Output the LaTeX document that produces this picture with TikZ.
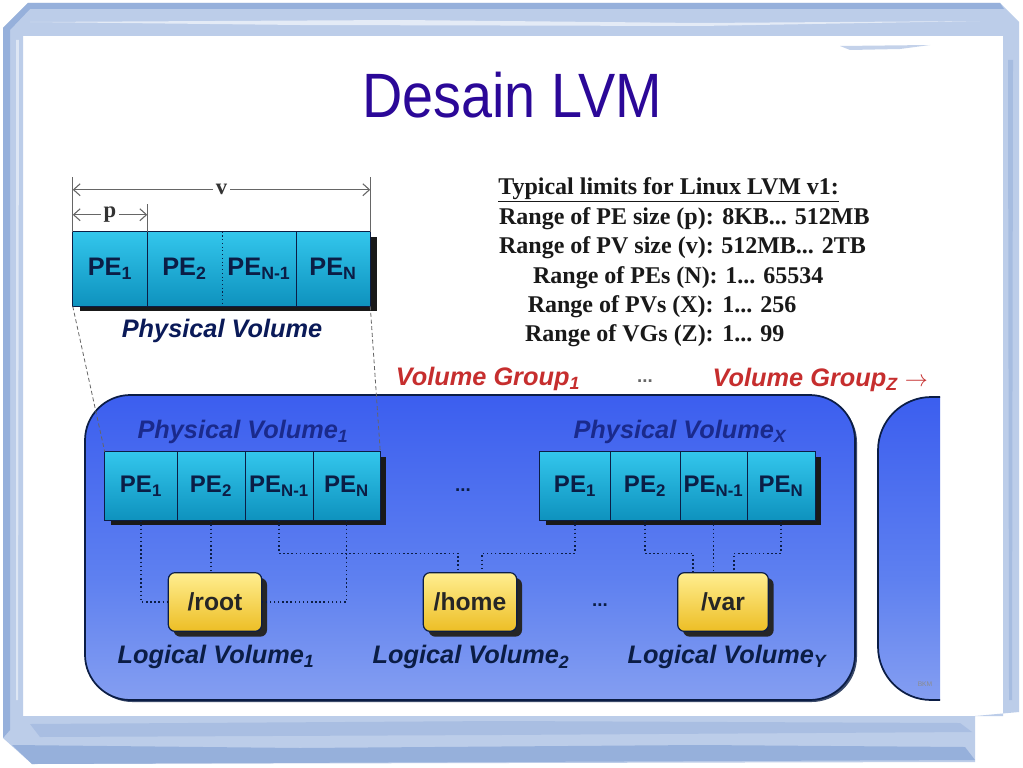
\documentclass[tikz,border=0pt]{standalone}
\usepackage{fontspec}
\setmainfont{Liberation Serif}
\setsansfont{Liberation Sans}
\usetikzlibrary{arrows.meta,shadows,calc}
\definecolor{navy}{HTML}{0B1D45}
\definecolor{pvlab}{HTML}{1A2A8C}
\definecolor{petop}{HTML}{33C6EC}
\definecolor{pebot}{HTML}{0E92BE}
\definecolor{lvtop}{HTML}{FFEE90}
\definecolor{lvbot}{HTML}{EDBE25}
\definecolor{vgtop}{HTML}{1F42EE}
\definecolor{vgmid}{HTML}{5E80F0}
\definecolor{vgbot}{HTML}{B4C4F2}
\definecolor{vgred}{HTML}{C62E2E}
\definecolor{titlec}{HTML}{2B0898}
\definecolor{framec}{HTML}{BCCDE9}
\definecolor{framed}{HTML}{7E9DD2}
\pgfdeclareverticalshading{vgshade}{100bp}{color(0bp)=(vgbot); color(45bp)=(vgmid); color(100bp)=(vgtop)}
\begin{document}
\begin{tikzpicture}[x=0.75pt,y=-0.75pt,
  pecell/.style={rectangle, inner sep=0pt, top color=petop, bottom color=pebot, text=navy},
  pebig/.style={font=\fontsize{19}{20}\selectfont\sffamily\bfseries},
  pesmall/.style={font=\fontsize{18}{19}\selectfont\sffamily\bfseries},
  lvbox/.style={rectangle, rounded corners=5pt, draw=navy, line width=0.9pt, top color=lvtop, bottom color=lvbot,
     minimum width=70pt, minimum height=44pt, inner sep=0pt, text=black!85,
     font=\fontsize{18.5}{19}\selectfont\sffamily\bfseries,
     drop shadow={shadow xshift=4pt, shadow yshift=-4pt, fill=black!85, opacity=1}},
  lab/.style={font=\fontsize{19}{20}\selectfont\sffamily\bfseries\itshape, text=navy},
  conn/.style={draw=navy, dotted, line width=1.1pt},
  dim/.style={draw=black!60, line width=0.8pt},
  tab/.style={font=\fontsize{18}{19}\selectfont\bfseries, text=black!90, inner sep=0pt},
  dots/.style={font=\fontsize{14}{15}\selectfont\sffamily\bfseries, text=navy}
]
\useasboundingbox (0,0) rectangle (1023,767);
\fill[white] (0,0) rectangle (1023,767);
% ---------- frame ----------
\fill[framec, even odd rule] (3,28) -- (28,3) -- (1000,3) -- (1019,22) -- (1019,712) -- (975,716) -- (975,762) -- (32,764) -- (3,738) -- cycle
   (23,36) rectangle (1003,716);
\fill[framed, opacity=.6] (3,28) -- (28,3) -- (1000,3) -- (1004,9) -- (30,9) -- (10,30) -- (10,730) -- (3,738) -- cycle;
\fill[white, opacity=.6] (30,22) -- (400,20) -- (700,23) -- (980,21) -- (700,26) -- (300,25) -- cycle;
\fill[white, opacity=.5] (16,40) -- (19,40) -- (18,700) -- (16,700) -- cycle;
\fill[framed, opacity=.6] (12,745) -- (300,748) -- (700,745) -- (965,747) -- (975,760) -- (32,764) -- cycle;
\fill[framed, opacity=.3] (30,724) -- (500,721) -- (960,723) -- (972,732) -- (500,735) -- (40,737) -- cycle;
\fill[framed, opacity=.35] (1008,60) -- (1013,60) -- (1012,700) -- (1009,700) -- cycle;
\fill[framed, opacity=.45] (840,46) -- (930,45) -- (900,49) -- (850,50) -- cycle;
% ---------- title ----------
\node[font=\fontsize{47}{50}\selectfont\sffamily, text=titlec, xscale=.89] (title) at (512,95) {Desain LVM};
% ---------- detail physical volume ----------
\fill[black!90] (80,237) rectangle (377,311);
\node[pecell, pebig, minimum width=55.5pt, minimum height=55.5pt] (d1) at (110,269) {PE\textsubscript{1}};
\node[pecell, pebig, minimum width=56.25pt, minimum height=55.5pt] (d2) at (184.5,269) {PE\textsubscript{2}};
\node[pecell, pebig, minimum width=55.5pt, minimum height=55.5pt] (d3) at (259,269) {PE\textsubscript{N-1}};
\node[pecell, pebig, minimum width=55.5pt, minimum height=55.5pt] (d4) at (333,269) {PE\textsubscript{N}};
\draw[navy, line width=0.9pt] (d1.north west) rectangle (d4.south east);
\draw[navy, line width=0.8pt] (d1.north east) -- (d1.south east);
\draw[navy, line width=0.8pt] (d3.north east) -- (d3.south east);
\draw[navy, line width=0.8pt, dotted] (d2.north east) -- (d2.south east);
\node[lab, text=navy!90!blue] (pvlabel) at (222,331) {Physical Volume};
% dimension lines
\coordinate (vl) at ($(d1.north west)+(0,-42)$);
\coordinate (vr) at ($(d4.north east)+(0,-42)$);
\coordinate (pl) at ($(d1.north west)+(0,-17)$);
\coordinate (pr) at ($(d1.north east)+(0,-17)$);
\draw[dim] (d1.north west) -- ++(0,-55);
\draw[dim] (d4.north east) -- ++(0,-55);
\draw[dim] (d1.north east) -- ++(0,-28);
\draw[dim, {Straight Barb[length=5pt,width=9pt]}-{Straight Barb[length=5pt,width=9pt]}] (vl) -- node[fill=white, inner sep=2pt, text=black!80, font=\fontsize{17}{18}\selectfont\bfseries] (vlab) {v} (vr);
\draw[dim, {Straight Barb[length=5pt,width=9pt]}-{Straight Barb[length=5pt,width=9pt]}] (pl) -- node[fill=white, inner sep=2pt, text=black!80, font=\fontsize{17}{18}\selectfont\bfseries] (plab) {p} (pr);
% ---------- table ----------
\node[tab, anchor=base west] (t0) at (498,194) {\underline{Typical limits for Linux LVM v1:}};
\node[tab, anchor=base east] (t1) at (714,224) {Range of PE size (p):};
\node[tab, anchor=base west] (v1) at (722,224) {8KB... 512MB};
\node[tab, anchor=base east] (t2) at (714,253) {Range of PV size (v):};
\node[tab, anchor=base west] (v2) at (721,253) {512MB... 2TB};
\node[tab, anchor=base east] (t3) at (718,283) {Range of PEs (N):};
\node[tab, anchor=base west] (v3) at (725,283) {1... 65534};
\node[tab, anchor=base east] (t4) at (714,312) {Range of PVs (X):};
\node[tab, anchor=base west] (v4) at (722,312) {1... 256};
\node[tab, anchor=base east] (t5) at (714,341) {Range of VGs (Z):};
\node[tab, anchor=base west] (v5) at (722,341) {1... 99};
% ---------- volume group labels ----------
\node[lab, text=vgred] (vg1lab) at (488,379) {Volume Group\textsubscript{1}};
\node[dots, text=black!60] (vgdots) at (645,381) {...};
\node[lab, text=vgred, anchor=west] (vgzlab) at (708,380) {Volume Group\textsubscript{Z} $\rightarrow$};
% ---------- second VG (partial) ----------
\shade[shading=vgshade] (940,397) [rounded corners=40pt] -- (878,397) -- (878,700) [sharp corners] -- (940,700) -- cycle;
\draw[navy, line width=1.3pt] (940,397) [rounded corners=40pt] -- (878,397) -- (878,700) -- (940,700);
\node[font=\fontsize{5}{6}\selectfont\sffamily, text=black!45] (bkm) at (925,684) {BKM};
% ---------- main VG ----------
\node[rectangle, rounded corners=34pt, shading=vgshade, draw=navy, line width=1.3pt,
      minimum width=577.5pt, minimum height=228.75pt,
      drop shadow={shadow xshift=1.5pt, shadow yshift=-1.5pt, fill=navy, opacity=.8}] (vg1) at (470,547.5) {};
% PV1
\fill[black!90] (111,457) rectangle (386,525);
\node[pecell, pesmall, minimum width=54pt, minimum height=51pt] (a1) at (141,486) {PE\textsubscript{1}};
\node[pecell, pesmall, minimum width=51pt, minimum height=51pt] (a2) at (211,486) {PE\textsubscript{2}};
\node[pecell, pesmall, minimum width=51pt, minimum height=51pt] (a3) at (279,486) {PE\textsubscript{N-1}};
\node[pecell, pesmall, minimum width=50.25pt, minimum height=51pt] (a4) at (346.5,486) {PE\textsubscript{N}};
\draw[navy, line width=0.9pt] (a1.north west) rectangle (a4.south east);
\foreach \c in {a1,a2,a3} \draw[navy, line width=0.8pt] (\c.north east) -- (\c.south east);
\node[lab, text=pvlab] (pv1lab) at (243,432) {Physical Volume\textsubscript{1}};
% PVX
\fill[black!90] (546,457) rectangle (821,525);
\node[pecell, pesmall, minimum width=52.5pt, minimum height=51pt] (b1) at (575,486) {PE\textsubscript{1}};
\node[pecell, pesmall, minimum width=52.5pt, minimum height=51pt] (b2) at (645,486) {PE\textsubscript{2}};
\node[pecell, pesmall, minimum width=50.25pt, minimum height=51pt] (b3) at (713.5,486) {PE\textsubscript{N-1}};
\node[pecell, pesmall, minimum width=51pt, minimum height=51pt] (b4) at (781,486) {PE\textsubscript{N}};
\draw[navy, line width=0.9pt] (b1.north west) rectangle (b4.south east);
\foreach \c in {b1,b2,b3} \draw[navy, line width=0.8pt] (\c.north east) -- (\c.south east);
\node[lab, text=pvlab] (pvxlab) at (680,432) {Physical Volume\textsubscript{X}};
\node[dots] (pvdots) at (463,490) {...};
% dashed expansion lines
\draw[black!60, line width=0.6pt, dash pattern=on 3pt off 2pt] (d1.south west) -- (a1.north west);
\draw[black!60, line width=0.6pt, dash pattern=on 3pt off 2pt] (d4.south east) -- (a4.north east);
% LVs
\node[lvbox] (root) at (215,602) {/root};
\node[lvbox] (home) at (470,602) {/home};
\node[lvbox, minimum width=68pt] (var) at (723,602) {/var};
\node[dots] (lvdots) at (600,605) {...};
\node[lab] (lv1lab) at (216,657) {Logical Volume\textsubscript{1}};
\node[lab] (lv2lab) at (471,657) {Logical Volume\textsubscript{2}};
\node[lab] (lvylab) at (727,657) {Logical Volume\textsubscript{Y}};
% connectors
\draw[conn] (a1.south) |- (root.west);
\draw[conn] (a2.south) -- (a2.south |- root.north);
\draw[conn] (a3.south) -- ++(0,33) -| ($(home.north)+(-12,0)$);
\draw[conn] (a4.south) |- (root.east);
\draw[conn] (b1.south) -- ++(0,33) -| ($(home.north)+(12,0)$);
\draw[conn] (b2.south) -- ++(0,33) -| ($(var.north)+(-30,0)$);
\draw[conn] (b3.south) -- (b3.south |- var.north);
\draw[conn] (b4.south) -- ++(0,33) -| ($(var.north)+(11,0)$);
\end{tikzpicture}
\end{document}
